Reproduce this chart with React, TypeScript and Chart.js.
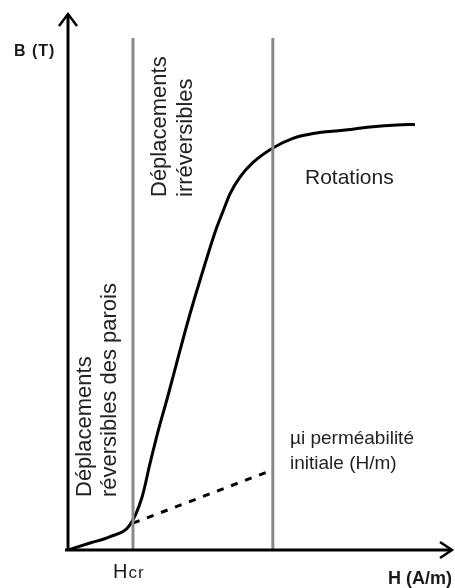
import React, { useEffect, useRef } from "react";
import { Chart, registerables } from "chart.js";

Chart.register(...registerables);

// Magnetisation curve B(H) (arbitrary units)
const curveH = [0, 0.58, 1.11, 1.63, 1.95, 2.16, 2.38, 2.62, 2.86, 3.09, 3.34, 3.61, 3.89, 4.08, 4.26, 4.53, 4.87, 5.39, 5.92, 6.45, 7.24, 7.95, 8.66, 9.13];
const curveB = [0, 0.13, 0.25, 0.47, 0.99, 1.62, 2.24, 2.85, 3.49, 4.1, 4.72, 5.35, 5.97, 6.32, 6.64, 6.96, 7.23, 7.5, 7.68, 7.77, 7.83, 7.89, 7.93, 7.94];

// Initial permeability tangent (dashed)
const tangentH = [1.71, 5.37];
const tangentB = [0.5, 1.49];

// Region boundaries (vertical lines)
const boundaryH = [1.71, 5.39];
const boundaryTop = 9.55;

const xLabel = "H (A/m)";
const yLabel = "B (T)";
const hcrMain = "H";
const hcrSub = "cr";
const rotationsLabel = "Rotations";
const muLines = ["µi perméabilité", "initiale (H/m)"];
const irrevLines = ["Déplacements", "irréversibles"];
const revLines = ["Déplacements", "réversibles des parois"];

const FONT = '"Liberation Sans", Arial, sans-serif';

const annotPlugin = {
  id: "annot",
  afterDatasetsDraw(chart: any) {
    const ctx = chart.ctx as CanvasRenderingContext2D;
    const xs = chart.scales.x;
    const ys = chart.scales.y;
    const x0 = xs.getPixelForValue(0);
    const y0 = ys.getPixelForValue(0);
    ctx.save();
    // axes
    ctx.strokeStyle = "#000";
    ctx.lineWidth = 3;
    ctx.lineCap = "butt";
    ctx.beginPath();
    ctx.moveTo(x0 - 3, y0);
    ctx.lineTo(451, y0);
    ctx.moveTo(x0, y0 + 1);
    ctx.lineTo(x0, 14);
    ctx.stroke();
    ctx.lineWidth = 2.5;
    ctx.lineJoin = "miter";
    ctx.beginPath();
    ctx.moveTo(x0 - 9, 26);
    ctx.lineTo(x0, 14);
    ctx.lineTo(x0 + 9, 26);
    ctx.moveTo(440, y0 - 8);
    ctx.lineTo(452, y0);
    ctx.lineTo(440, y0 + 8);
    ctx.stroke();

    ctx.fillStyle = "#1a1a1a";
    ctx.textBaseline = "alphabetic";
    ctx.textAlign = "left";
    // axis titles
    ctx.font = `bold 16px ${FONT}`;
    (ctx as any).letterSpacing = "1px";
    ctx.fillText(yLabel, 14, 56);
    (ctx as any).letterSpacing = "0px";
    ctx.font = `bold 18px ${FONT}`;
    ctx.fillText(xLabel, 388, 584);
    // Hcr
    ctx.font = `20px ${FONT}`;
    ctx.fillText(hcrMain, 113, 578);
    const hw = ctx.measureText(hcrMain).width;
    ctx.font = `17px ${FONT}`;
    (ctx as any).letterSpacing = "1px";
    ctx.fillText(hcrSub, 113 + hw + 1, 578);
    (ctx as any).letterSpacing = "0px";
    // Rotations
    ctx.fillStyle = "#222";
    ctx.font = `21px ${FONT}`;
    ctx.fillText(rotationsLabel, 305, 184);
    // mu
    ctx.font = `19px ${FONT}`;
    ctx.fillText(muLines[0], 290, 444);
    ctx.fillText(muLines[1], 290, 469);
    // rotated labels
    ctx.font = `22px ${FONT}`;
    const drawRot = (text: string, bx: number, by: number) => {
      ctx.save();
      ctx.translate(bx, by);
      ctx.rotate(-Math.PI / 2);
      ctx.fillText(text, 0, 0);
      ctx.restore();
    };
    drawRot(irrevLines[0], 166, 197);
    drawRot(irrevLines[1], 192, 197);
    drawRot(revLines[0], 91, 497);
    drawRot(revLines[1], 116, 497);
    ctx.restore();
  },
};

export default function App() {
  const ref = useRef<HTMLCanvasElement | null>(null);
  useEffect(() => {
    if (!ref.current) return;
    const curve = curveH.map((h, i) => ({ x: h, y: curveB[i] }));
    const tangent = tangentH.map((h, i) => ({ x: h, y: tangentB[i] }));
    const boundaries = boundaryH.map((h) => ({
      data: [
        { x: h, y: 0 },
        { x: h, y: boundaryTop },
      ],
      borderColor: "#8a8a8a",
      borderWidth: 3,
      pointRadius: 0,
      fill: false,
      clip: false as any,
    }));
    const chart = new Chart(ref.current, {
      type: "line",
      data: {
        datasets: [
          ...boundaries,
          {
            data: tangent,
            borderColor: "#000",
            borderWidth: 3,
            borderDash: [7, 8],
            pointRadius: 0,
            fill: false,
          },
          {
            data: curve,
            borderColor: "#000",
            borderWidth: 3,
            pointRadius: 0,
            fill: false,
            cubicInterpolationMode: "monotone",
          },
        ] as any,
      },
      options: {
        animation: false,
        responsive: false,
        devicePixelRatio: 1,
        layout: { padding: { left: 68, right: 7, top: 14, bottom: 38 } },
        plugins: { legend: { display: false }, tooltip: { enabled: false } },
        scales: {
          x: { type: "linear", min: 0, max: 10, display: false },
          y: { type: "linear", min: 0, max: 10, display: false },
        },
      },
      plugins: [annotPlugin],
    });
    return () => chart.destroy();
  }, []);
  return (
    <div style={{ position: "absolute", left: 0, top: 0, width: 455, height: 588, background: "#fff" }}>
      <canvas ref={ref} width={455} height={588} />
    </div>
  );
}
